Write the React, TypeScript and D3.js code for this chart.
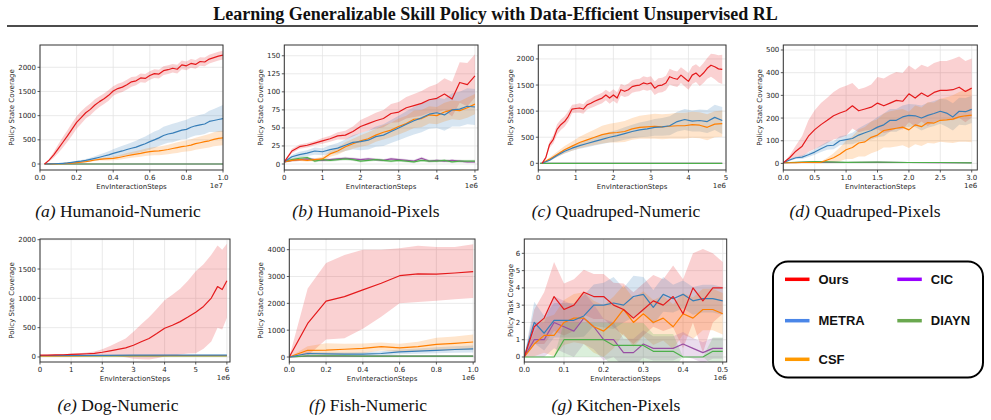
import React from 'react';
import * as d3 from 'd3';

// ---------- colours ----------
const LINE_COLORS: Record<string, string> = { ours: '#e41a1c', metra: '#377eb8', csf: '#ff7f00', cic: '#984ea3', diayn: '#4daf4a' };
const LEGEND_COLORS: Record<string, string> = { ours: '#ff0000', metra: '#4a86e8', csf: '#ff9900', cic: '#9900ff', diayn: '#6aa84f' };
const LEGEND_LABELS = ['Ours', 'METRA', 'CSF', 'CIC', 'DIAYN'];
const LEGEND_KEYS = ['ours', 'metra', 'csf', 'cic', 'diayn'];

// ---------- (a) Humanoid-Numeric (x in 1e7) ----------
const aX = [0.025,0.05,0.075,0.1,0.125,0.15,0.175,0.2,0.225,0.25,0.275,0.3,0.325,0.35,0.375,0.4,0.425,0.45,0.475,0.5,0.525,0.55,0.575,0.6,0.625,0.65,0.675,0.7,0.725,0.75,0.775,0.8,0.825,0.85,0.875,0.9,0.925,0.95,0.975,1.0];
const aOurs = [0,80,190,320,450,580,720,860,960,1060,1130,1220,1290,1350,1420,1510,1560,1590,1640,1700,1720,1780,1770,1830,1870,1860,1930,1950,1980,1960,2050,2030,2080,2060,2120,2110,2170,2200,2230,2250];
const aOursSd = [0,30,60,90,110,120,130,130,130,120,120,120,110,110,110,100,100,100,100,100,90,90,90,90,90,90,90,90,90,90,90,90,90,90,90,90,90,90,90,90];
const aMetra = [0,2,5,10,15,22,35,48,60,75,95,117,140,165,190,220,245,270,300,325,350,385,420,462,500,540,590,620,640,670,700,717,760,790,810,828,880,900,920,940];
const aMetraSd = [0,2,4,6,8,10,14,18,22,28,35,45,55,65,75,85,95,105,110,120,130,140,150,160,170,170,180,180,190,190,190,200,200,200,210,210,220,240,260,280];
const aCsf = [0,1,3,5,8,12,18,28,38,50,65,83,95,105,110,117,130,150,170,190,205,220,240,255,265,270,285,300,320,340,360,372,390,420,440,462,480,510,530,540];
const aCsfSd = [0,1,2,3,4,6,8,10,12,15,18,20,25,30,35,40,45,50,55,60,65,70,75,80,85,90,95,100,105,110,110,115,120,125,130,135,140,145,150,150];
const aFlatX = [0.025,1.0];
const aFlat = [0,0];

// ---------- (b) Humanoid-Pixels (x in 1e6) ----------
const bX = [0,0.2,0.4,0.6,0.8,1.0,1.2,1.4,1.6,1.8,2.0,2.2,2.4,2.6,2.8,3.0,3.2,3.4,3.6,3.8,4.0,4.2,4.4,4.6,4.8,5.0];
const bOurs = [3,18,24,26,29,32,35,39,40,45,52,56,60,63,70,72,78,81,84,89,91,97,90,113,110,122];
const bOursSd = [1,3,3,3,3,4,4,5,6,7,9,10,11,12,13,14,15,16,17,18,20,22,24,28,30,30];
const bMetra = [3,10,13,15,18,17,20,22,26,30,31,33,38,40,45,50,55,60,64,69,71,68,75,76,80,79];
const bMetraSd = [1,3,4,4,5,5,6,7,8,10,12,13,14,15,16,17,18,19,20,20,21,22,23,24,25,25];
const bCsf = [3,5,6,5,6,7,14,18,24,28,32,35,40,44,47,52,56,62,63,68,67,72,75,74,78,83];
const bCsfSd = [1,2,2,2,2,3,4,5,6,7,8,9,9,10,10,11,11,12,12,12,12,13,13,13,14,14];
const bCic = [3,5,6,7,6,5,6,7,8,7,6,7,6,5,7,6,5,4,8,4,5,4,5,4,3,3];
const bCicSd = [1,2,2,2,2,2,2,2,2,2,2,2,2,2,2,2,2,2,2,2,2,2,2,2,2,2];
const bDiayn = [3,6,8,9,4,6,5,6,7,6,4,5,6,5,4,5,4,3,5,4,4,5,3,4,4,4];
const bDiaynSd = [1,2,2,2,2,2,2,2,2,2,2,2,2,2,2,2,2,2,2,2,2,2,2,2,2,2];

// ---------- (c) Quadruped-Numeric ----------
const cX1 = [0.1,0.2,0.3,0.4,0.5,0.6,0.7,0.8,0.9,1.0,1.1,1.2,1.3,1.4,1.5,1.6,1.7,1.8,1.9,2.0,2.1,2.2,2.3,2.4,2.5,2.6,2.7,2.8,2.9,3.0,3.1,3.2,3.3,3.4,3.5,3.6,3.7,3.8,3.9,4.0,4.1,4.2,4.3,4.4,4.5,4.6,4.7,4.8,4.9];
const cOurs = [0,110,360,460,650,740,800,900,1040,1050,1060,1040,1120,1150,1190,1220,1250,1310,1250,1310,1250,1410,1380,1410,1470,1490,1500,1540,1520,1540,1440,1490,1500,1540,1660,1630,1610,1690,1630,1570,1690,1730,1660,1730,1820,1880,1850,1810,1800];
const cOursSd = [0,30,60,80,100,100,100,100,80,80,90,90,90,90,100,100,100,100,110,110,110,110,110,120,120,120,120,130,130,130,130,140,140,140,150,150,150,150,160,160,170,170,180,190,200,220,240,260,280];
const cX2 = [0.1,0.3,0.5,0.7,0.9,1.1,1.3,1.5,1.7,1.9,2.1,2.3,2.5,2.7,2.9,3.1,3.3,3.5,3.7,3.9,4.1,4.3,4.5,4.7,4.9];
const cMetra = [0,60,150,230,290,340,380,420,460,500,530,570,610,640,660,690,700,720,800,840,810,820,800,880,820];
const cMetraSd = [0,20,30,40,50,60,70,80,90,100,110,120,130,140,150,160,170,180,190,200,200,210,220,240,260];
const cCsf = [0,80,170,260,330,400,450,500,550,580,590,610,660,690,700,710,700,710,720,720,740,730,690,750,760];
const cCsfSd = [0,30,50,70,90,110,130,150,170,180,190,200,210,220,230,240,240,240,250,250,250,250,250,250,250];
const cFlatX = [0.05,4.9];
const cFlat = [0,0];

// ---------- (d) Quadruped-Pixels ----------
const dX = [0,0.1,0.2,0.3,0.4,0.5,0.6,0.7,0.8,0.9,1.0,1.1,1.2,1.3,1.4,1.5,1.6,1.7,1.8,1.9,2.0,2.1,2.2,2.3,2.4,2.5,2.6,2.7,2.8,2.9,3.0];
const dOurs = [3,25,54,76,120,149,171,190,210,222,232,254,232,240,248,266,254,266,278,274,307,288,310,295,313,322,322,325,336,317,332];
const dOursSd = [0,10,25,45,70,85,95,100,105,110,110,100,95,95,100,115,120,125,125,125,125,125,125,130,130,130,130,135,135,135,130];
const dMetra = [3,15,25,28,38,50,65,78,80,100,105,110,125,135,145,160,170,190,190,205,212,210,200,212,220,230,222,205,230,228,238];
const dMetraSd = [1,4,6,8,10,12,15,18,18,20,20,25,30,35,40,45,50,50,50,50,50,50,55,55,55,55,60,60,60,60,60];
const dCsf = [3,3,3,4,4,4,5,15,25,40,60,70,90,95,115,125,145,150,155,160,148,170,162,180,178,190,192,195,205,210,213];
const dCsfSd = [1,1,1,2,2,3,4,10,20,30,40,50,60,65,70,70,75,80,80,80,80,85,85,90,90,95,100,105,110,115,120];
const dFlatX = [0,0.5,1.0,1.5,2.0,2.5,3.0];
const dCic = [3,6,4,5,4,3,3];
const dDiayn = [3,8,5,6,4,4,2];
const dFlatSd = [1,2,2,2,2,2,2];

// ---------- (e) Dog-Numeric ----------
const eX = [0,0.25,0.5,0.75,1.0,1.25,1.5,1.75,2.0,2.25,2.5,2.75,3.0,3.25,3.5,3.75,4.0,4.25,4.5,4.75,5.0,5.25,5.5,5.7,5.85,6.0];
const eOurs = [30,32,35,38,45,50,55,62,80,105,130,155,200,260,316,400,489,540,603,680,764,862,1005,1200,1150,1300];
const eOursSd = [5,5,6,8,10,15,20,30,50,80,120,160,230,300,360,420,480,520,560,620,700,720,740,700,680,630];
const eFlatX = [0,1,2,3,4,5,6];
const eMetra = [25,26,28,30,30,32,32];
const eCsf = [20,20,21,21,22,22,22];
const eDiayn = [20,20,20,20,20,20,20];
const eFlatSd = [3,3,4,5,5,5,5];

// ---------- (f) Fish-Numeric ----------
const fX = [0,0.1,0.2,0.3,0.4,0.5,0.6,0.7,0.8,0.9,1.0];
const fOurs = [0,1250,2080,2250,2500,2750,3030,3100,3090,3130,3180];
const fOursLo = [0,50,650,700,1050,1500,2000,2050,2100,2150,2200];
const fOursHi = [0,2550,3500,3800,4000,4000,4050,4150,4100,4100,4200];
const fMetra = [0,130,120,110,110,130,190,220,250,280,300];
const fMetraSd = [0,60,60,60,70,80,90,100,110,120,130];
const fCsf = [0,250,260,290,320,390,340,390,470,510,560];
const fCsfSd = [0,150,250,200,180,150,150,180,250,250,280];
const fCic = [0,30,30,30,30,30,30,30,30,30,30];
const fDiayn = [0,40,40,40,35,35,30,30,30,30,30];
const fFlatSd = [0,20,20,20,20,20,20,20,20,20,20];

// ---------- (g) Kitchen-Pixels ----------
const gX = [0,0.025,0.05,0.075,0.1,0.125,0.15,0.175,0.2,0.225,0.25,0.275,0.3,0.325,0.35,0.375,0.4,0.425,0.45,0.475,0.5];
const gOurs = [0,1.75,2.25,3.5,2.75,3.0,3.75,3.5,3.5,3.0,2.75,2.25,2.75,3.25,3.0,3.5,2.5,4.0,3.25,4.0,4.0];
const gOursSd = [0,1.0,1.5,2.0,1.5,1.5,1.3,1.3,1.3,1.3,1.5,1.5,1.5,1.5,1.5,1.8,2.0,2.0,3.0,2.0,1.5];
const gMetra = [0,2.0,1.375,2.125,2.125,2.125,2.375,3.0,3.0,3.125,3.0,3.5,3.625,2.875,3.625,3.375,3.625,3.25,3.375,3.375,3.25];
const gMetraSd = [0,1.2,1.0,1.0,1.0,1.0,1.2,1.2,1.3,1.5,1.0,1.2,1.0,1.0,1.0,0.8,0.8,0.8,0.8,0.8,0.8];
const gCsf = [0,0.75,1.25,1.25,2.0,2.25,2.25,1.75,1.5,2.0,2.75,2.0,2.5,2.0,2.25,1.75,2.5,2.25,2.75,2.75,2.5];
const gCsfSd = [0,0.7,1.0,1.2,1.3,1.4,1.5,1.5,1.5,1.5,1.4,1.4,1.3,1.3,1.3,1.3,1.2,1.2,1.2,1.2,1.2];
const gCic = [0,1.0,1.0,2.0,1.75,1.5,2.25,1.75,1.0,1.0,0.25,0.25,0.75,0.5,0.5,0.5,0.75,0.5,0.25,0.5,0.5];
const gCicSd = [0,1.0,1.0,1.5,1.5,1.5,1.5,1.3,1.2,1.0,0.8,0.8,0.8,0.7,0.7,0.7,0.7,0.6,0.6,0.6,0.6];
const gDiayn = [0,0,0,0,1.0,1.0,1.0,1.0,1.0,0.67,0.67,0.67,0.67,0.33,0.33,0.33,0,0,0,0.33,0.33];
const gDiaynSd = [0,0,0,0,1.0,1.0,1.0,1.0,1.0,1.3,1.3,1.3,1.3,1.0,1.0,1.0,0,0,0,0.8,0.8];

// ---------- ticks ----------
const ticksA_X = [0,0.2,0.4,0.6,0.8,1.0];
const labelsA_X = ['0.0','0.2','0.4','0.6','0.8','1.0'];
const ticksInt5 = [0,1,2,3,4,5];
const labelsInt5 = ['0','1','2','3','4','5'];
const ticksD_X = [0,0.5,1,1.5,2,2.5,3];
const labelsD_X = ['0.0','0.5','1.0','1.5','2.0','2.5','3.0'];
const ticksE_X = [0,1,2,3,4,5,6];
const labelsE_X = ['0','1','2','3','4','5','6'];
const ticksG_X = [0,0.1,0.2,0.3,0.4,0.5];
const labelsG_X = ['0.0','0.1','0.2','0.3','0.4','0.5'];
const yTicks2000 = [0,500,1000,1500,2000];
const yTicks150 = [0,25,50,75,100,125,150];
const yTicks500 = [0,100,200,300,400,500];
const yTicks4000 = [0,1000,2000,3000,4000];
const yTicks6 = [0,1,2,3,4,5,6];

type Series = { key: string; x: number[]; y: number[]; sd?: number[]; lo?: number[]; hi?: number[] };
type PanelCfg = {
  id: string; left: number; right: number; top: number; bottom: number;
  xDomain: [number, number]; yDomain: [number, number];
  xTicks: number[]; xLabels: string[]; yTicks: number[]; offset: string;
  ylabel: string; ylabelX: number; letter: string; name: string; capX: number; capY: number;
  series: Series[];
};

const TOP = { top: 45, bottom: 170 };
const BOT = { top: 239, bottom: 362 };

const panels: PanelCfg[] = [
  { id: 'a', left: 40, right: 223, ...TOP, xDomain: [0, 1.0], yDomain: [-124, 2461], xTicks: ticksA_X, xLabels: labelsA_X, yTicks: yTicks2000, offset: '1e7',
    ylabel: 'Policy State Coverage', ylabelX: 11, letter: '(a)', name: 'Humanoid-Numeric', capX: 118, capY: 216.5,
    series: [
      { key: 'ours', x: aX, y: aOurs, sd: aOursSd }, { key: 'metra', x: aX, y: aMetra, sd: aMetraSd }, { key: 'csf', x: aX, y: aCsf, sd: aCsfSd },
      { key: 'cic', x: aFlatX, y: aFlat }, { key: 'diayn', x: aFlatX, y: aFlat } ] },
  { id: 'b', left: 284.3, right: 478, ...TOP, xDomain: [0, 5.08], yDomain: [-8.3, 164.9], xTicks: ticksInt5, xLabels: labelsInt5, yTicks: yTicks150, offset: '1e6',
    ylabel: 'Policy State Coverage', ylabelX: 260, letter: '(b)', name: 'Humanoid-Pixels', capX: 366, capY: 216.5,
    series: [
      { key: 'ours', x: bX, y: bOurs, sd: bOursSd }, { key: 'metra', x: bX, y: bMetra, sd: bMetraSd }, { key: 'csf', x: bX, y: bCsf, sd: bCsfSd },
      { key: 'cic', x: bX, y: bCic, sd: bCicSd }, { key: 'diayn', x: bX, y: bDiayn, sd: bDiaynSd } ] },
  { id: 'c', left: 538.3, right: 726, ...TOP, xDomain: [0, 5], yDomain: [-128, 2267], xTicks: ticksInt5, xLabels: labelsInt5, yTicks: yTicks2000, offset: '1e6',
    ylabel: 'Policy State Coverage', ylabelX: 510, letter: '(c)', name: 'Quadruped-Numeric', capX: 616, capY: 216.5,
    series: [
      { key: 'ours', x: cX1, y: cOurs, sd: cOursSd }, { key: 'metra', x: cX2, y: cMetra, sd: cMetraSd }, { key: 'csf', x: cX2, y: cCsf, sd: cCsfSd },
      { key: 'cic', x: cFlatX, y: cFlat }, { key: 'diayn', x: cFlatX, y: cFlat } ] },
  { id: 'd', left: 783.3, right: 977.3, ...TOP, xDomain: [0, 3.089], yDomain: [-29, 522], xTicks: ticksD_X, xLabels: labelsD_X, yTicks: yTicks500, offset: '1e6',
    ylabel: 'Policy State Coverage', ylabelX: 759, letter: '(d)', name: 'Quadruped-Pixels', capX: 865, capY: 216.5,
    series: [
      { key: 'ours', x: dX, y: dOurs, sd: dOursSd }, { key: 'metra', x: dX, y: dMetra, sd: dMetraSd }, { key: 'csf', x: dX, y: dCsf, sd: dCsfSd },
      { key: 'cic', x: dFlatX, y: dCic, sd: dFlatSd }, { key: 'diayn', x: dFlatX, y: dDiayn, sd: dFlatSd } ] },
  { id: 'e', left: 40, right: 230, ...BOT, xDomain: [0, 6.1], yDomain: [-86, 2012], xTicks: ticksE_X, xLabels: labelsE_X, yTicks: yTicks2000, offset: '1e6',
    ylabel: 'Policy State Coverage', ylabelX: 11, letter: '(e)', name: 'Dog-Numeric', capX: 118, capY: 410.5,
    series: [
      { key: 'ours', x: eX, y: eOurs, sd: eOursSd }, { key: 'metra', x: eFlatX, y: eMetra, sd: eFlatSd }, { key: 'csf', x: eFlatX, y: eCsf, sd: eFlatSd },
      { key: 'diayn', x: eFlatX, y: eDiayn, sd: eFlatSd } ] },
  { id: 'f', left: 289.3, right: 475, ...BOT, xDomain: [0, 1.01], yDomain: [-186, 4398], xTicks: ticksA_X, xLabels: labelsA_X, yTicks: yTicks4000, offset: '1e6',
    ylabel: 'Policy State Coverage', ylabelX: 260, letter: '(f)', name: 'Fish-Numeric', capX: 368, capY: 410.5,
    series: [
      { key: 'ours', x: fX, y: fOurs, lo: fOursLo, hi: fOursHi }, { key: 'metra', x: fX, y: fMetra, sd: fMetraSd }, { key: 'csf', x: fX, y: fCsf, sd: fCsfSd },
      { key: 'cic', x: fX, y: fCic, sd: fFlatSd }, { key: 'diayn', x: fX, y: fDiayn, sd: fFlatSd } ] },
  { id: 'g', left: 524.3, right: 726.7, ...BOT, xDomain: [0, 0.51], yDomain: [-0.29, 6.83], xTicks: ticksG_X, xLabels: labelsG_X, yTicks: yTicks6, offset: '1e6',
    ylabel: 'Policy Task Coverage', ylabelX: 510, letter: '(g)', name: 'Kitchen-Pixels', capX: 616, capY: 410.5,
    series: [
      { key: 'ours', x: gX, y: gOurs, sd: gOursSd }, { key: 'metra', x: gX, y: gMetra, sd: gMetraSd }, { key: 'csf', x: gX, y: gCsf, sd: gCsfSd },
      { key: 'cic', x: gX, y: gCic, sd: gCicSd }, { key: 'diayn', x: gX, y: gDiayn, sd: gDiaynSd } ] },
];

const LINE_ORDER = ['cic', 'diayn', 'csf', 'metra', 'ours'];
const AX_FONT = 'DejaVu Sans, sans-serif';

function Panel({ p }: { p: PanelCfg }) {
  const xs = d3.scaleLinear().domain(p.xDomain).range([p.left, p.right]);
  const ys = d3.scaleLinear().domain(p.yDomain).range([p.bottom, p.top]);
  const clipId = `clip-${p.id}`;
  const lo = (s: Series, i: number) => (s.lo ? s.lo[i] : s.sd ? s.y[i] - s.sd[i] : s.y[i]);
  const hi = (s: Series, i: number) => (s.hi ? s.hi[i] : s.sd ? s.y[i] + s.sd[i] : s.y[i]);
  const areaFor = (s: Series) =>
    d3.area<number>().x((i) => xs(s.x[i])).y0((i) => ys(lo(s, i))).y1((i) => ys(hi(s, i)))(d3.range(s.x.length)) || '';
  const lineFor = (s: Series) => d3.line<number>().x((i) => xs(s.x[i])).y((i) => ys(s.y[i]))(d3.range(s.x.length)) || '';
  const sorted = [...p.series].sort((a, b) => LINE_ORDER.indexOf(a.key) - LINE_ORDER.indexOf(b.key));
  const xb = p.bottom;
  const midY = (p.top + p.bottom) / 2;
  return (
    <g>
      <defs>
        <clipPath id={clipId}>
          <rect x={p.left} y={p.top} width={p.right - p.left} height={p.bottom - p.top} />
        </clipPath>
      </defs>
      {p.xTicks.map((t) => (
        <line key={'gx' + t} x1={xs(t)} x2={xs(t)} y1={p.top} y2={p.bottom} stroke="#e4e4e4" strokeWidth={0.8} />
      ))}
      {p.yTicks.map((t) => (
        <line key={'gy' + t} x1={p.left} x2={p.right} y1={ys(t)} y2={ys(t)} stroke="#e4e4e4" strokeWidth={0.8} />
      ))}
      <g clipPath={`url(#${clipId})`}>
        {p.series.filter((s) => s.sd || s.lo).map((s) => (
          <path key={'f' + s.key} d={areaFor(s)} fill={LINE_COLORS[s.key]} fillOpacity={0.2} stroke="none" />
        ))}
        {sorted.map((s) => (
          <path key={'l' + s.key} d={lineFor(s)} fill="none" stroke={LINE_COLORS[s.key]} strokeWidth={1.2} strokeLinejoin="round" />
        ))}
      </g>
      <rect x={p.left} y={p.top} width={p.right - p.left} height={p.bottom - p.top} fill="none" stroke="#333" strokeWidth={1} />
      {p.xTicks.map((t, i) => (
        <g key={'xt' + t}>
          <line x1={xs(t)} x2={xs(t)} y1={xb} y2={xb + 2.5} stroke="#333" strokeWidth={0.8} />
          <text x={xs(t)} y={xb + 9.5} fontSize={7} fontFamily={AX_FONT} fill="#262626" textAnchor="middle">{p.xLabels[i]}</text>
        </g>
      ))}
      {p.yTicks.map((t) => (
        <g key={'yt' + t}>
          <line x1={p.left - 2.5} x2={p.left} y1={ys(t)} y2={ys(t)} stroke="#333" strokeWidth={0.8} />
          <text x={p.left - 4} y={ys(t) + 2.5} fontSize={7} fontFamily={AX_FONT} fill="#262626" textAnchor="end">{String(t)}</text>
        </g>
      ))}
      <text x={(p.left + p.right) / 2} y={xb + 18.5} fontSize={7} fontFamily={AX_FONT} fill="#262626" textAnchor="middle">EnvInteractionSteps</text>
      <text x={p.right} y={xb + 17.5} fontSize={7} fontFamily={AX_FONT} fill="#262626" textAnchor="end">{p.offset}</text>
      <text transform={`translate(${p.ylabelX + 2.5},${midY}) rotate(-90)`} fontSize={7} fontFamily={AX_FONT} fill="#262626" textAnchor="middle">{p.ylabel}</text>
      <text x={p.capX} y={p.capY} fontSize={17.5} fontFamily="Liberation Serif, Times New Roman, serif" fill="#111" textAnchor="middle">
        <tspan fontStyle="italic">{p.letter}</tspan>
        <tspan> {p.name}</tspan>
      </text>
    </g>
  );
}

function Legend() {
  const col1 = 785, col2 = 897.3;
  const rows = [279.3, 320.7, 359.3];
  const pos = [[col1, rows[0]], [col1, rows[1]], [col1, rows[2]], [col2, rows[0]], [col2, rows[1]]];
  return (
    <g>
      <rect x={773} y={261.5} width={210} height={116} rx={15} ry={15} fill="#fff" stroke="#000" strokeWidth={2} />
      {LEGEND_KEYS.map((k, i) => (
        <g key={k}>
          <line x1={pos[i][0]} x2={pos[i][0] + 24.5} y1={pos[i][1]} y2={pos[i][1]} stroke={LEGEND_COLORS[k]} strokeWidth={3.5} />
          <text x={pos[i][0] + 33.5} y={pos[i][1] + 4.6} fontSize={13} fontWeight="bold" fontFamily="Liberation Sans, Arial, sans-serif" fill="#111">{LEGEND_LABELS[i]}</text>
        </g>
      ))}
    </g>
  );
}

export default function App() {
  return (
    <svg width={991} height={420} viewBox="0 0 991 420" style={{ position: 'absolute', left: 0, top: 0, background: '#fff' }}>
      <rect x={0} y={0} width={991} height={420} fill="#fff" />
      <text x={495.5} y={20} fontSize={18} fontWeight="bold" fontFamily="Liberation Serif, Times New Roman, serif" textAnchor="middle" fill="#111">
        Learning Generalizable Skill Policy with Data-Efficient Unsupervised RL
      </text>
      <line x1={7} x2={978} y1={26} y2={26} stroke="#111" strokeWidth={1.5} />
      {panels.map((p) => (
        <Panel key={p.id} p={p} />
      ))}
      <Legend />
    </svg>
  );
}
